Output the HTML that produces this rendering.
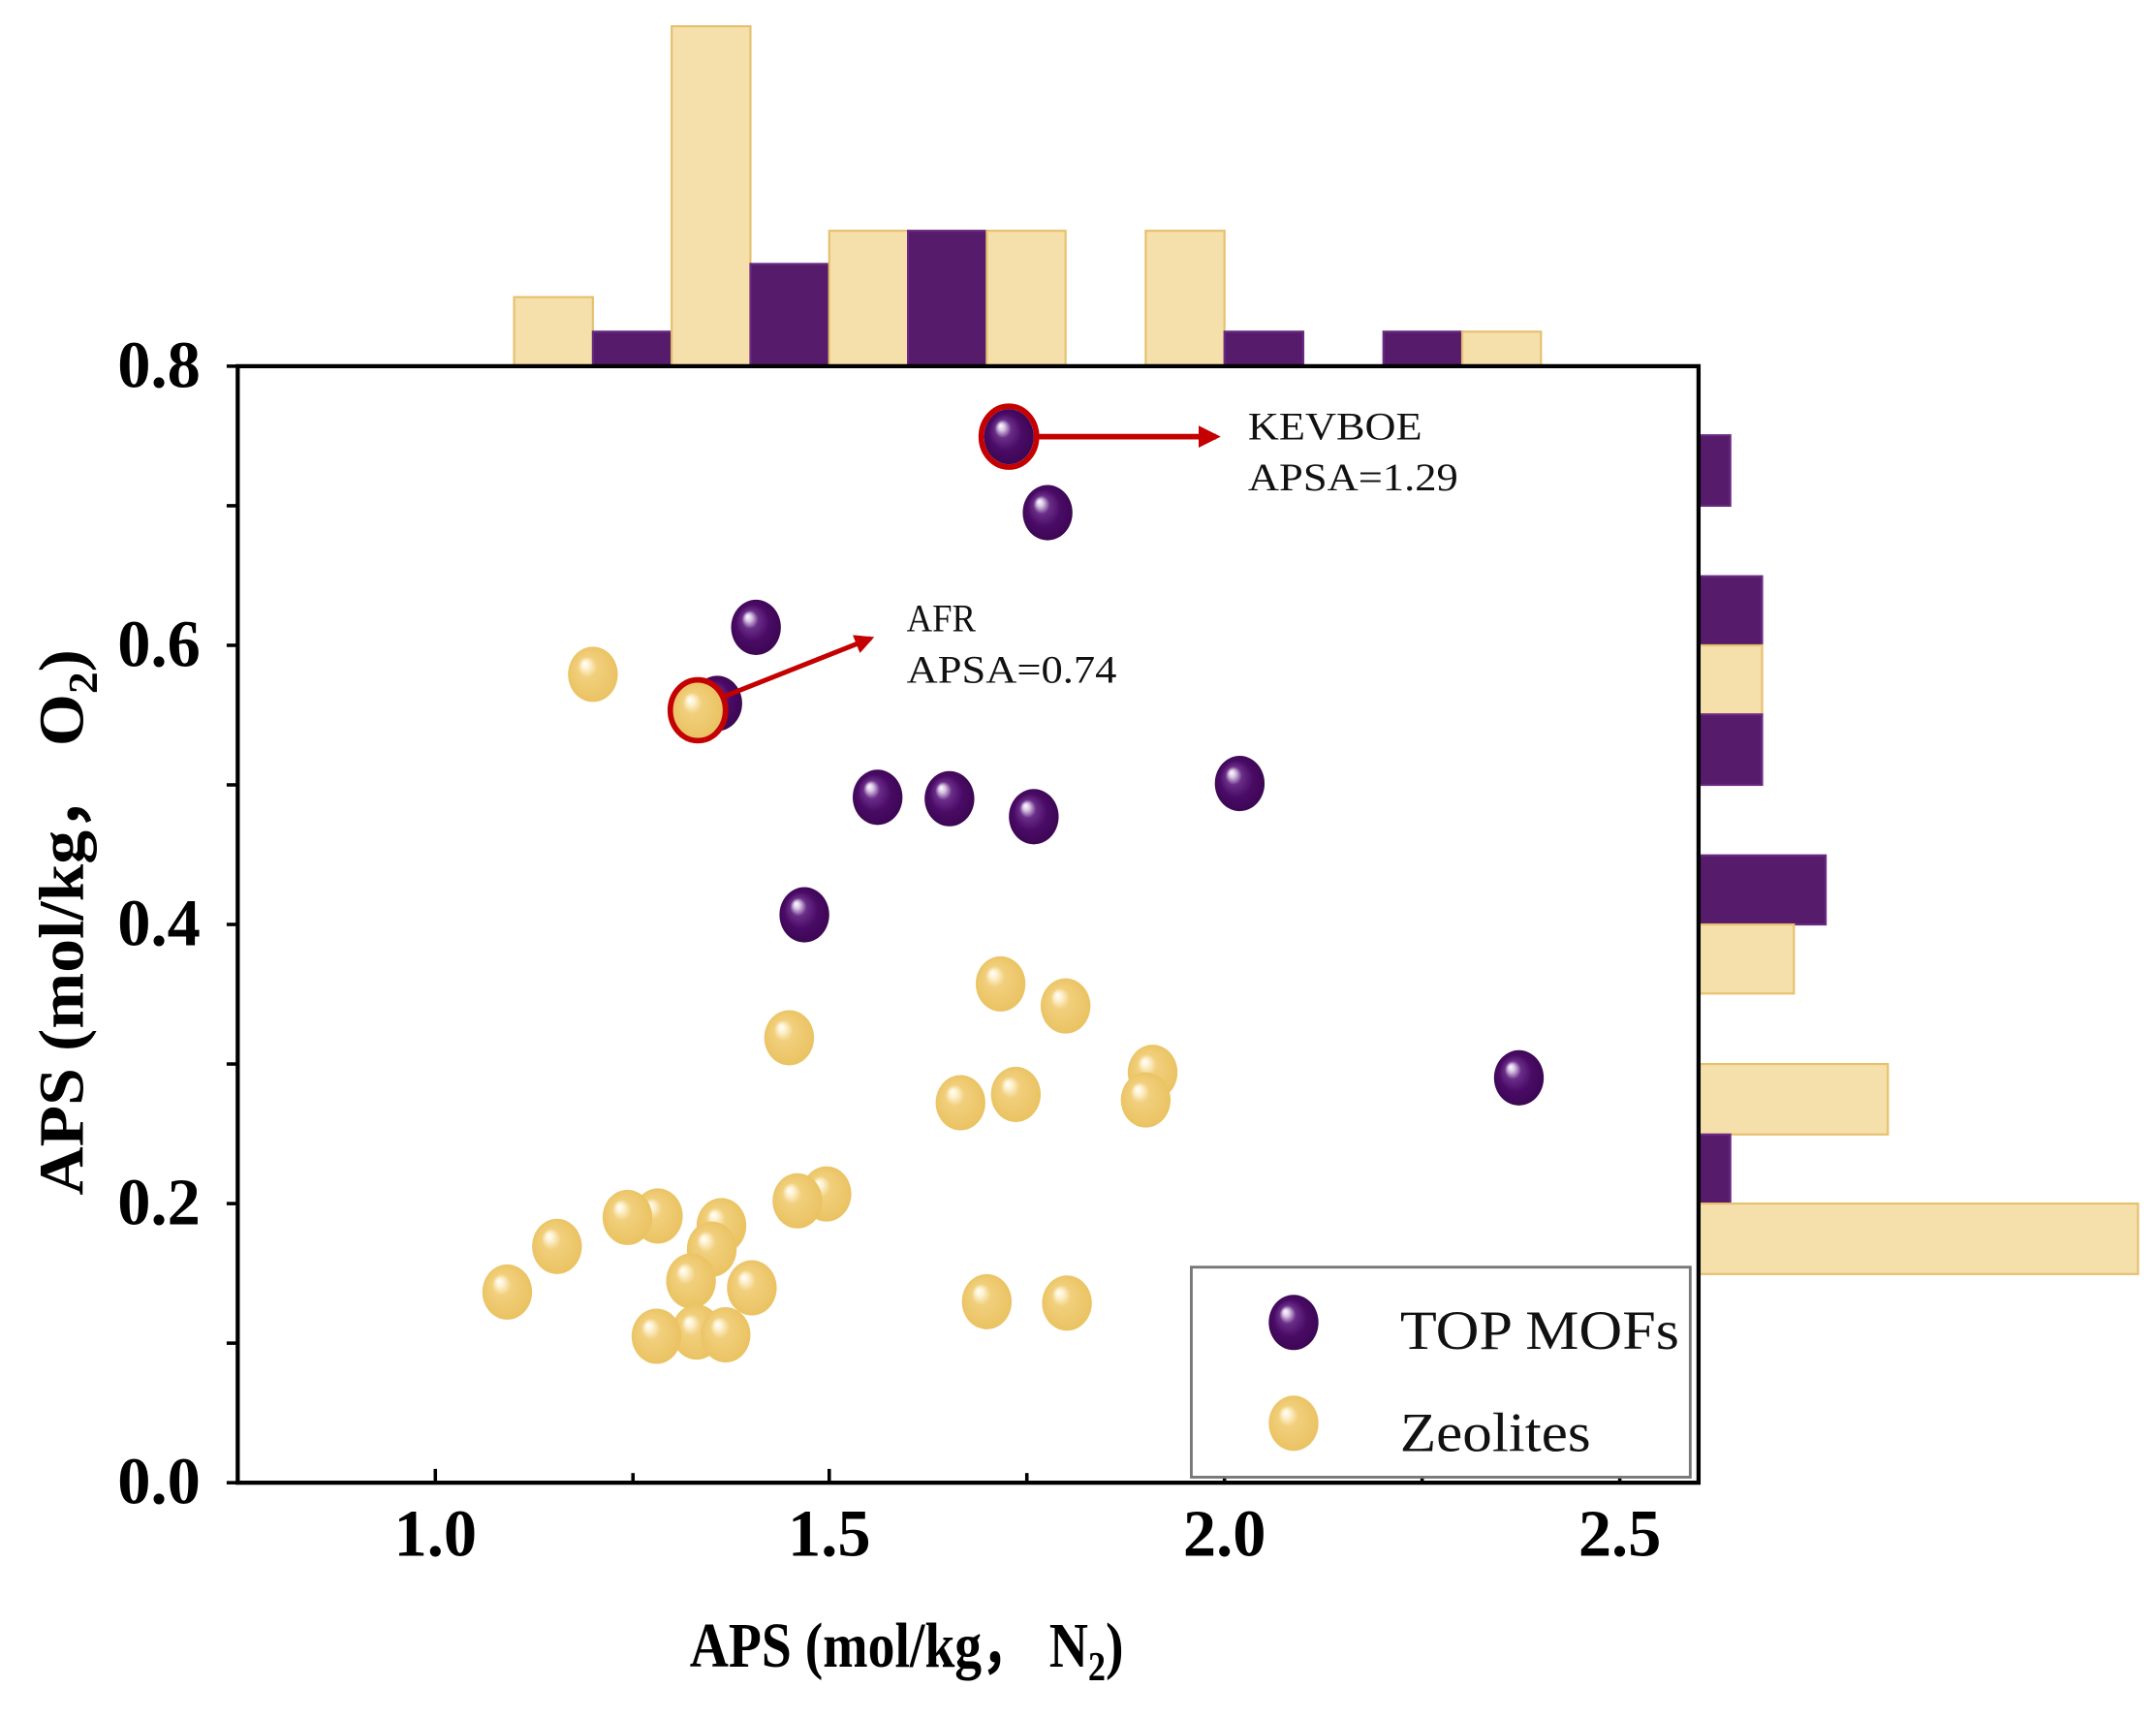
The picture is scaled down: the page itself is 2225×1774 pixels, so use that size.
<!DOCTYPE html>
<html><head><meta charset="utf-8"><style>
html,body{margin:0;padding:0;background:#fff;}
svg{display:block;}
</style></head><body>
<svg width="2225" height="1774" viewBox="0 0 1560 1244" preserveAspectRatio="none" xmlns="http://www.w3.org/2000/svg" font-family="'Liberation Serif', serif">
<defs>
<radialGradient id="gm" cx="0.5" cy="0.5" r="0.55" fx="0.33" fy="0.3">
<stop offset="0" stop-color="#ffffff"/>
<stop offset="0.12" stop-color="#d9c6e4"/>
<stop offset="0.3" stop-color="#6a2e88"/>
<stop offset="0.6" stop-color="#4a0b66"/>
<stop offset="1" stop-color="#3a0650"/>
</radialGradient>
<radialGradient id="gz" cx="0.5" cy="0.5" r="0.55" fx="0.33" fy="0.3">
<stop offset="0" stop-color="#ffffff"/>
<stop offset="0.14" stop-color="#fdf1cf"/>
<stop offset="0.35" stop-color="#f1cf7c"/>
<stop offset="1" stop-color="#e9c15f"/>
</radialGradient>
<marker id="ar" viewBox="0 0 10 10" refX="8" refY="5" markerWidth="4" markerHeight="4" orient="auto"><path d="M0,0 L10,5 L0,10 z" fill="#c40000"/></marker>
</defs>

<g stroke-width="1.5">
<rect x="372" y="215" width="57" height="50" fill="#f5dfaa" stroke="#e6c06c"/>
<rect x="429" y="240" width="57" height="25" fill="#561b6b" stroke="#6a2a82"/>
<rect x="486" y="19" width="57" height="246" fill="#f5dfaa" stroke="#e6c06c"/>
<rect x="543" y="191" width="57" height="74" fill="#561b6b" stroke="#6a2a82"/>
<rect x="600" y="167" width="57" height="98" fill="#f5dfaa" stroke="#e6c06c"/>
<rect x="657" y="167" width="57" height="98" fill="#561b6b" stroke="#6a2a82"/>
<rect x="714" y="167" width="57" height="98" fill="#f5dfaa" stroke="#e6c06c"/>
<rect x="829" y="167" width="57" height="98" fill="#f5dfaa" stroke="#e6c06c"/>
<rect x="886" y="240" width="57" height="25" fill="#561b6b" stroke="#6a2a82"/>
<rect x="1001" y="240" width="57" height="25" fill="#561b6b" stroke="#6a2a82"/>
<rect x="1058" y="240" width="57" height="25" fill="#f5dfaa" stroke="#e6c06c"/>
</g>
<g stroke-width="1.5">
<rect x="1229" y="315" width="23" height="51" fill="#561b6b" stroke="#6a2a82"/>
<rect x="1229" y="417" width="46" height="50" fill="#561b6b" stroke="#6a2a82"/>
<rect x="1229" y="467" width="46" height="50" fill="#f5dfaa" stroke="#e6c06c"/>
<rect x="1229" y="517" width="46" height="51" fill="#561b6b" stroke="#6a2a82"/>
<rect x="1229" y="619" width="92" height="50" fill="#561b6b" stroke="#6a2a82"/>
<rect x="1229" y="669" width="69" height="50" fill="#f5dfaa" stroke="#e6c06c"/>
<rect x="1229" y="770" width="137" height="51" fill="#f5dfaa" stroke="#e6c06c"/>
<rect x="1229" y="821" width="23" height="50" fill="#561b6b" stroke="#6a2a82"/>
<rect x="1229" y="871" width="318" height="51" fill="#f5dfaa" stroke="#e6c06c"/>
</g>

<rect x="172" y="265" width="1057" height="808" fill="none" stroke="#000" stroke-width="3"/>
<g stroke="#000" stroke-width="2.5">
<line x1="164" y1="265" x2="172" y2="265"/><line x1="164" y1="366" x2="172" y2="366"/>
<line x1="164" y1="467" x2="172" y2="467"/><line x1="164" y1="568" x2="172" y2="568"/>
<line x1="164" y1="669" x2="172" y2="669"/><line x1="164" y1="770" x2="172" y2="770"/>
<line x1="164" y1="871" x2="172" y2="871"/><line x1="164" y1="972" x2="172" y2="972"/>
<line x1="164" y1="1073" x2="172" y2="1073"/>
<line x1="315" y1="1073" x2="315" y2="1063"/><line x1="458" y1="1073" x2="458" y2="1066"/>
<line x1="600" y1="1073" x2="600" y2="1063"/><line x1="743" y1="1073" x2="743" y2="1066"/>
<line x1="886" y1="1073" x2="886" y2="1063"/><line x1="1029" y1="1073" x2="1029" y2="1066"/>
<line x1="1172" y1="1073" x2="1172" y2="1063"/>
</g>
<g font-weight="bold" font-size="48" text-anchor="end" fill="#000">
<text x="145" y="280">0.8</text><text x="145" y="482">0.6</text>
<text x="145" y="684">0.4</text><text x="145" y="886">0.2</text>
<text x="145" y="1088">0.0</text>
</g>
<g font-weight="bold" font-size="48" text-anchor="middle" fill="#000">
<text x="315" y="1126">1.0</text><text x="600" y="1126">1.5</text>
<text x="886" y="1126">2.0</text><text x="1172" y="1126">2.5</text>
</g>
<text x="499" y="1206" font-weight="bold" font-size="46" textLength="314" lengthAdjust="spacingAndGlyphs">APS (mol/kg，  N<tspan font-size="30" dy="10">2</tspan><tspan dy="-10">)</tspan></text>
<text transform="translate(60,865) rotate(-90)" font-weight="bold" font-size="46" textLength="395" lengthAdjust="spacingAndGlyphs">APS (mol/kg，  O<tspan font-size="30" dy="10">2</tspan><tspan dy="-10">)</tspan></text>

<g>
<g fill="url(#gm)">
<ellipse cx="519" cy="509" rx="18" ry="20"/>
<ellipse cx="758" cy="371" rx="18" ry="20"/>
<ellipse cx="547" cy="454" rx="18" ry="20"/>
<ellipse cx="635" cy="577" rx="18" ry="20"/>
<ellipse cx="687" cy="578" rx="18" ry="20"/>
<ellipse cx="748" cy="591" rx="18" ry="20"/>
<ellipse cx="897" cy="567" rx="18" ry="20"/>
<ellipse cx="582" cy="662" rx="18" ry="20"/>
<ellipse cx="1099" cy="780" rx="18" ry="20"/>
<ellipse cx="730" cy="316" rx="18" ry="20"/>
</g>
<g fill="url(#gz)">
<ellipse cx="429" cy="488" rx="18" ry="20"/>
<ellipse cx="724" cy="712" rx="18" ry="20"/>
<ellipse cx="771" cy="728" rx="18" ry="20"/>
<ellipse cx="571" cy="751" rx="18" ry="20"/>
<ellipse cx="834" cy="776" rx="18" ry="20"/>
<ellipse cx="829" cy="796" rx="18" ry="20"/>
<ellipse cx="735" cy="792" rx="18" ry="20"/>
<ellipse cx="695" cy="798" rx="18" ry="20"/>
<ellipse cx="598" cy="864" rx="18" ry="20"/>
<ellipse cx="577" cy="869" rx="18" ry="20"/>
<ellipse cx="476" cy="880" rx="18" ry="20"/>
<ellipse cx="454" cy="881" rx="18" ry="20"/>
<ellipse cx="522" cy="887" rx="18" ry="20"/>
<ellipse cx="515" cy="904" rx="18" ry="20"/>
<ellipse cx="403" cy="902" rx="18" ry="20"/>
<ellipse cx="367" cy="935" rx="18" ry="20"/>
<ellipse cx="500" cy="927" rx="18" ry="20"/>
<ellipse cx="544" cy="932" rx="18" ry="20"/>
<ellipse cx="714" cy="942" rx="18" ry="20"/>
<ellipse cx="772" cy="943" rx="18" ry="20"/>
<ellipse cx="504" cy="964" rx="18" ry="20"/>
<ellipse cx="525" cy="966" rx="18" ry="20"/>
<ellipse cx="475" cy="967" rx="18" ry="20"/>
<ellipse cx="505" cy="514" rx="18" ry="20"/>
</g>
<ellipse cx="730" cy="316" rx="20" ry="22" fill="none" stroke="#c40000" stroke-width="4"/>
<ellipse cx="505" cy="514" rx="20" ry="22" fill="none" stroke="#c40000" stroke-width="4"/>
<line x1="750" y1="316" x2="880" y2="316" stroke="#c40000" stroke-width="4" marker-end="url(#ar)"/>
<line x1="524" y1="504" x2="630" y2="462" stroke="#c40000" stroke-width="3.5" marker-end="url(#ar)"/>
</g>
<g font-size="28" fill="#111">
<text x="903" y="318" textLength="126" lengthAdjust="spacingAndGlyphs">KEVBOE</text>
<text x="903" y="355" textLength="152" lengthAdjust="spacingAndGlyphs">APSA=1.29</text>
<text x="656" y="457" textLength="50" lengthAdjust="spacingAndGlyphs">AFR</text>
<text x="656" y="494" textLength="152" lengthAdjust="spacingAndGlyphs">APSA=0.74</text>
</g>

<rect x="862" y="917" width="361" height="152" fill="#fff" stroke="#777" stroke-width="2"/>
<ellipse cx="936" cy="957" rx="18" ry="20" fill="url(#gm)"/>
<ellipse cx="936" cy="1030" rx="18" ry="20" fill="url(#gz)"/>
<g font-size="40" fill="#111">
<text x="1013" y="976" textLength="202" lengthAdjust="spacingAndGlyphs">TOP MOFs</text>
<text x="1013" y="1050" textLength="138" lengthAdjust="spacingAndGlyphs">Zeolites</text>
</g>
</svg>
</body></html>
